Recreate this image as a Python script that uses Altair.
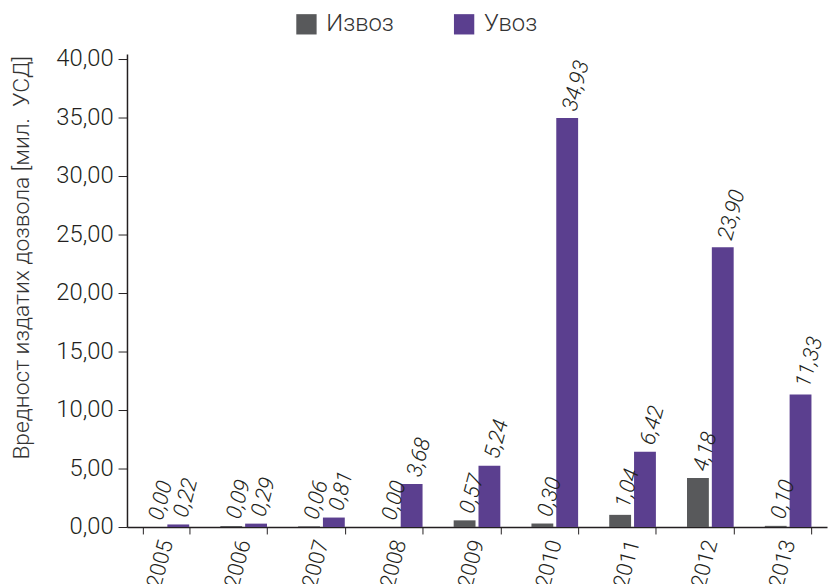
import altair as alt
import pandas as pd

years = ["2005", "2006", "2007", "2008", "2009", "2010", "2011", "2012", "2013"]
izvoz = [0.00, 0.09, 0.06, 0.00, 0.57, 0.30, 1.04, 4.18, 0.10]
uvoz = [0.22, 0.29, 0.81, 3.68, 5.24, 34.93, 6.42, 23.90, 11.33]
series = ["Извоз", "Увоз"]
colors = ["#58595b", "#5b3f8f"]
y_ticks = [0, 5, 10, 15, 20, 25, 30, 35, 40]

rows = []
for i, yr in enumerate(years):
    rows.append({"year": yr, "series": series[0], "value": izvoz[i]})
    rows.append({"year": yr, "series": series[1], "value": uvoz[i]})
df = pd.DataFrame(rows)

FONT = "Roboto"
W = 300
TXT = "#231f20"

base = alt.Chart(df).transform_calculate(
    label="replace(format(datum.value, '.2f'), '.', ',')"
)

x = alt.X(
    "year:N",
    title=None,
    sort=years,
    scale=alt.Scale(paddingInner=0.4, paddingOuter=0.2),
    axis=alt.Axis(
        tickBand="extent",
        labelAngle=285,
        labelAlign="right",
        labelBaseline="middle",
        labelFontSize=22,
        labelFont=FONT,
        labelFontWeight=W,
        labelColor=TXT,
        labelPadding=6,
        domainColor="#231f20",
        tickColor="#231f20",
        tickSize=7,
        domainWidth=1.5,
        grid=False,
    ),
)
xo = alt.XOffset("series:N", sort=series, scale=alt.Scale(paddingInner=0.12))
y = alt.Y(
    "value:Q",
    title="Вредност издатих дозвола [мил.\u00a0 УСД]",
    scale=alt.Scale(domain=[0, 40.4], nice=False),
    axis=alt.Axis(
        values=y_ticks,
        labelExpr="replace(format(datum.value, '.2f'), '.', ',')",
        labelFontSize=24,
        labelFont=FONT,
        labelFontWeight=W,
        labelColor=TXT,
        labelPadding=5,
        titleFont=FONT,
        titleFontSize=23,
        titleFontWeight=W,
        titleColor="#333333",
        titlePadding=22,
        titleY=205,
        domainColor="#231f20",
        tickColor="#231f20",
        tickSize=9,
        domainWidth=1.5,
        grid=False,
    ),
)

bars = base.mark_bar().encode(
    x=x,
    xOffset=xo,
    y=y,
    color=alt.Color(
        "series:N",
        sort=series,
        scale=alt.Scale(domain=series, range=colors),
        legend=alt.Legend(
            title=None,
            orient="none",
            legendX=169,
            legendY=-42,
            direction="horizontal",
            symbolType="square",
            symbolSize=420,
            symbolStrokeWidth=0,
            labelFontSize=24,
            labelFont=FONT,
            labelFontWeight=W,
            labelColor="#333333",
            columnPadding=58,
            labelOffset=8,
        ),
    ),
)

labels = base.mark_text(
    angle=285,
    align="left",
    baseline="middle",
    dx=8,
    fontSize=22,
    font=FONT,
    fontWeight=W,
    fontStyle="italic",
    color=TXT,
).encode(
    x=alt.X("year:N", sort=years),
    xOffset=alt.XOffset("series:N", sort=series),
    y=alt.Y("value:Q"),
    text="label:N",
)

chart = (
    alt.layer(bars, labels)
    .properties(
        width=706,
        height=477,
        autosize=alt.AutoSizeParams(type="none"),
        padding={"left": 120, "top": 44, "right": 2, "bottom": 55},
    )
    .configure_view(stroke=None)
)

chart.save("out.html", embed_options={"renderer": "svg", "actions": False})
